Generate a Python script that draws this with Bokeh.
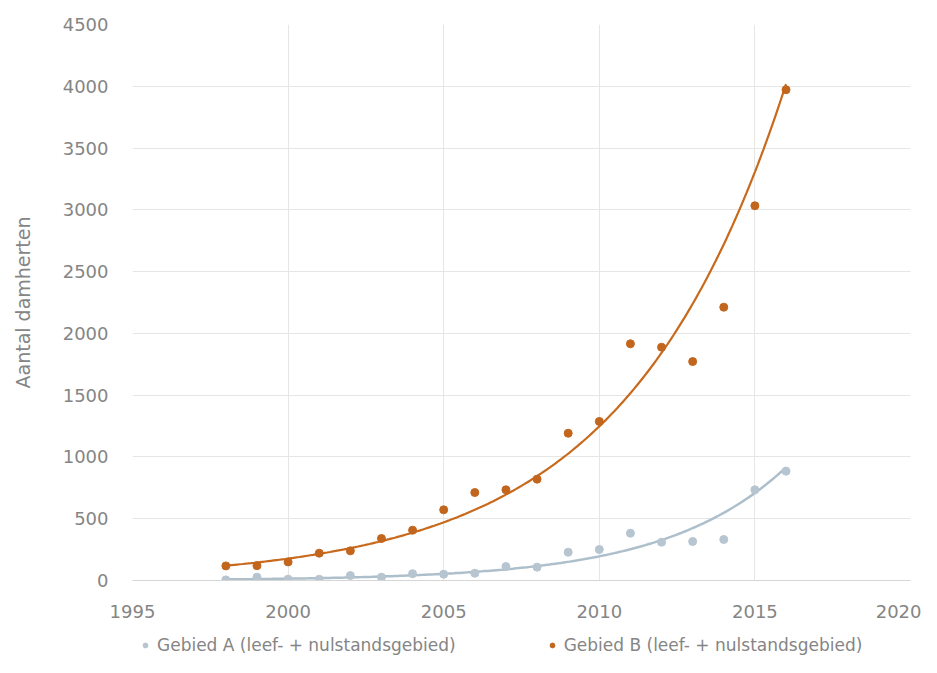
import numpy as np
from bokeh.plotting import figure
from bokeh.layouts import column
from bokeh.models import FixedTicker, Legend, LegendItem
from bokeh.embed import file_html
from bokeh.resources import INLINE

years = [1998, 1999, 2000, 2001, 2002, 2003, 2004, 2005, 2006, 2007, 2008,
         2009, 2010, 2011, 2012, 2013, 2014, 2015, 2016]
gebied_a = [5, 27, 11, 10, 40, 27, 55, 51, 59, 113, 108, 229, 251, 383, 310, 316, 332, 734, 885]
gebied_b = [118, 120, 150, 221, 240, 340, 407, 572, 712, 734, 820, 1192, 1287, 1916, 1888, 1772, 2212, 3033, 3972]
label_a = "Gebied A (leef- + nulstandsgebied)"
label_b = "Gebied B (leef- + nulstandsgebied)"
y_title = "Aantal damherten"
x_ticks = [1995, 2000, 2005, 2010, 2015, 2020]
y_ticks = [0, 500, 1000, 1500, 2000, 2500, 3000, 3500, 4000, 4500]

col_a = "#b7c5d0"
col_a_line = "#aebfcc"
col_b = "#c2661d"
col_b_line = "#c8691c"
text_col = "#858585"
FONT = "DejaVu Sans"


def exp_trend(xs, ys):
    xs = np.asarray(xs, dtype=float)
    k, c = np.polyfit(xs, np.log(np.asarray(ys, dtype=float)), 1)
    xx = np.linspace(xs.min(), xs.max(), 200)
    return xx, np.exp(c + k * xx)


p = figure(width=921, height=620, x_range=(1995, 2020), y_range=(0, 4500),
           output_backend="svg", toolbar_location=None,
           min_border_left=132, min_border_right=11, min_border_top=24,
           min_border_bottom=40)
p.outline_line_color = None
p.background_fill_color = "white"
p.border_fill_color = "white"

p.xaxis.ticker = FixedTicker(ticks=x_ticks)
p.yaxis.ticker = FixedTicker(ticks=y_ticks)
for ax in (p.xaxis[0], p.yaxis[0]):
    ax.major_tick_line_color = None
    ax.minor_tick_line_color = None
    ax.major_label_text_font = FONT
    ax.major_label_text_font_size = "18px"
    ax.major_label_text_color = text_col
p.xaxis.axis_line_color = "#d6d6d6"
p.yaxis.axis_line_color = None
p.xaxis.major_label_standoff = 18
p.yaxis.major_label_standoff = 18
p.yaxis.axis_label = y_title
p.yaxis.axis_label_text_font = FONT
p.yaxis.axis_label_text_font_style = "normal"
p.yaxis.axis_label_text_font_size = "19px"
p.yaxis.axis_label_text_color = text_col
p.yaxis.axis_label_standoff = 26

p.xgrid.grid_line_color = "#e6e6e6"
p.ygrid.grid_line_color = "#e6e6e6"

xa, ya = exp_trend(years, gebied_a)
xb, yb = exp_trend(years, gebied_b)
p.line(xa, ya, line_color=col_a_line, line_width=2.5)
p.line(xb, yb, line_color=col_b_line, line_width=2.2)

p.scatter(years, gebied_a, size=8, fill_color=col_a, line_color=col_a)
p.scatter(years, gebied_b, size=8, fill_color=col_b, line_color=col_b)

# legend strip below the chart (its frame is aligned with the chart frame)
lf = figure(width=921, height=37, x_range=(0, 1), y_range=(0, 1),
            output_backend="svg", toolbar_location=None,
            x_axis_type=None, y_axis_type=None,
            min_border_left=132, min_border_right=11, min_border_top=0,
            min_border_bottom=0)
lf.outline_line_color = None
lf.xgrid.visible = False
lf.ygrid.visible = False
# proxy renderers for the legend; their points lie outside this strip's range
la = lf.scatter(years[:1], gebied_a[:1], size=8, fill_color=col_a, line_color=col_a)
lb = lf.scatter(years[:1], gebied_b[:1], size=8, fill_color=col_b, line_color=col_b)

lg = Legend(items=[LegendItem(label=label_a, renderers=[la]),
                   LegendItem(label=label_b, renderers=[lb])],
            location=(7, 2), orientation="horizontal", spacing=90,
            border_line_color=None, background_fill_alpha=0,
            padding=0, margin=0, glyph_width=12, glyph_height=12,
            label_standoff=6, label_height=18,
            label_text_font=FONT, label_text_font_size="17px",
            label_text_color=text_col)
lf.add_layout(lg, "center")

layout = column(p, lf, spacing=0)
open("out.html", "w").write(file_html(layout, INLINE))
